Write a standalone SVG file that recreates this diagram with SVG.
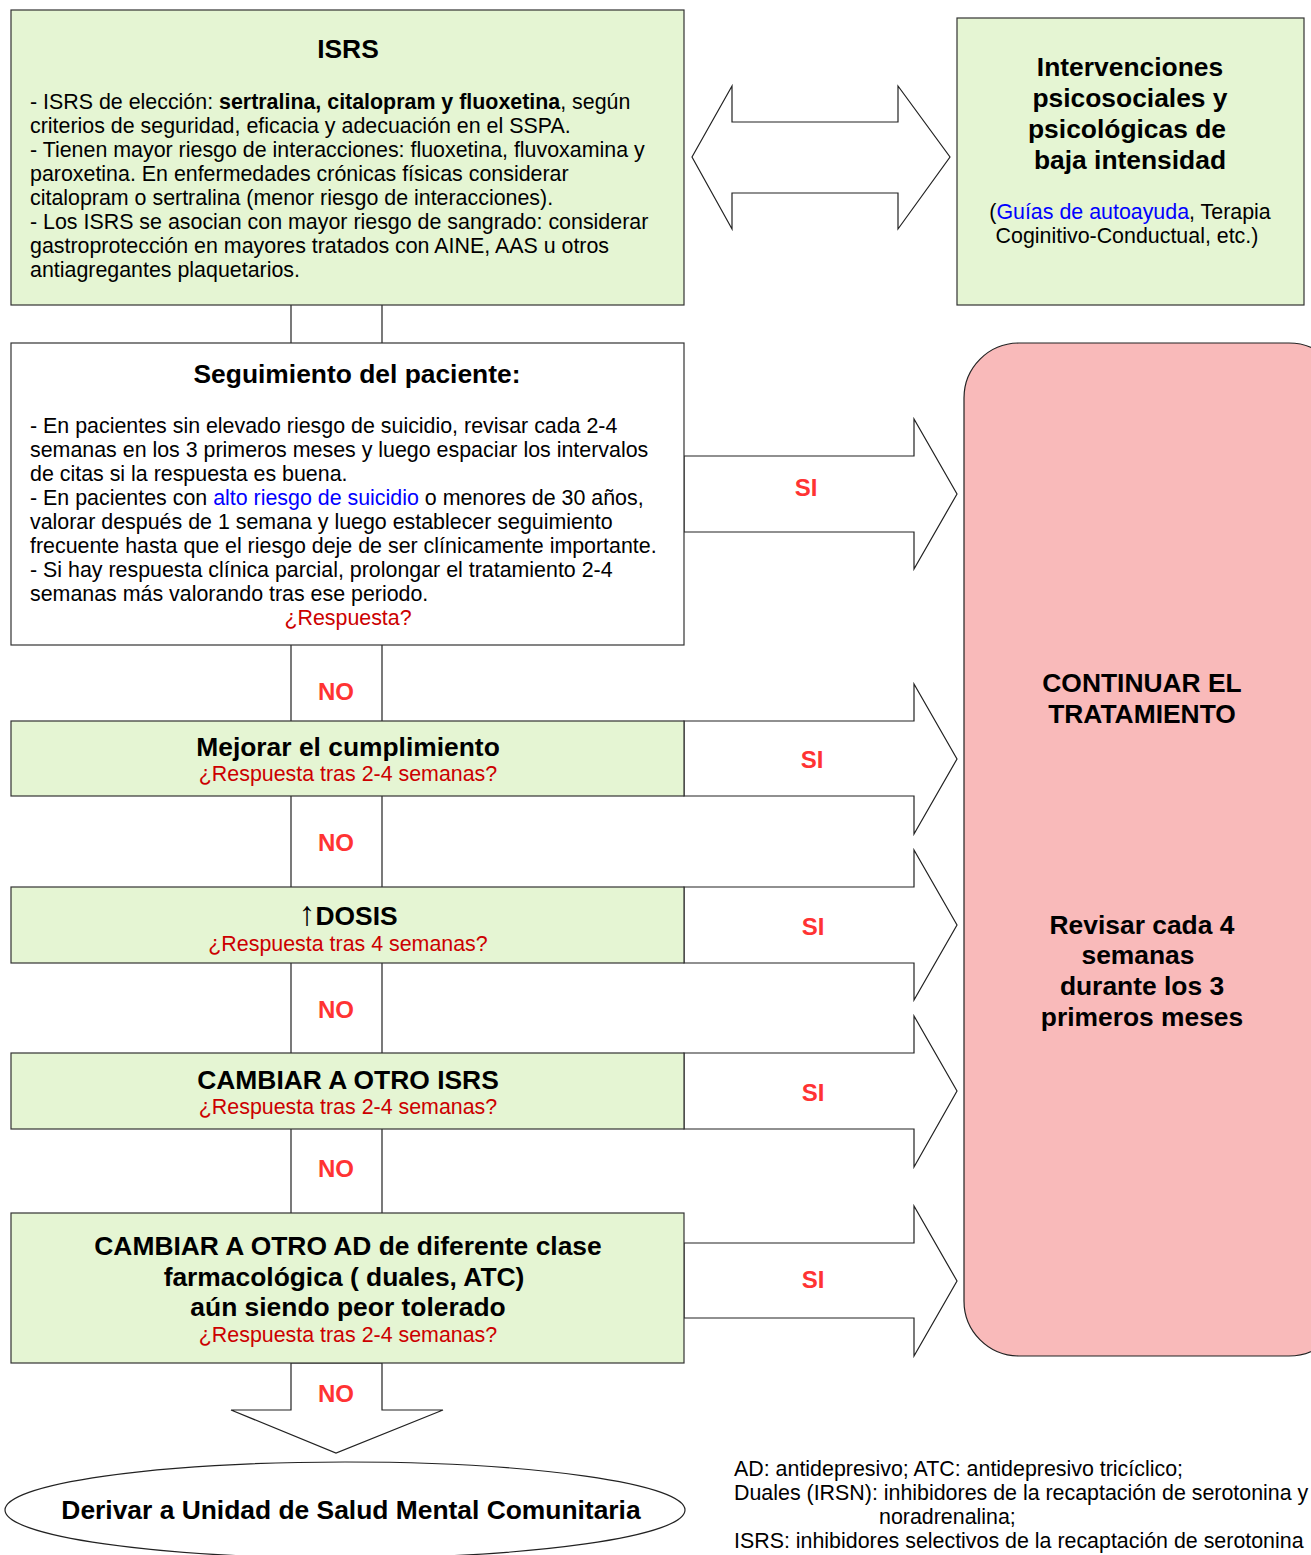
<svg xmlns="http://www.w3.org/2000/svg" width="1311" height="1555" viewBox="0 0 1311 1555">
<style>
text{font-family:"Liberation Sans",Arial,sans-serif;}
.box{fill:#e5f5d3;stroke:#333;stroke-width:1.2;}
.wbox{fill:#fff;stroke:#333;stroke-width:1.2;}
.arr{fill:#fff;stroke:#222;stroke-width:1.2;}
.ln{fill:none;stroke:#222;stroke-width:1.2;}
.t{font-size:21.4px;fill:#000;}
.h{font-size:26.4px;font-weight:bold;fill:#000;text-anchor:middle;}
.q{font-size:21.4px;fill:#cc0000;text-anchor:middle;}
.lab{font-size:24px;font-weight:bold;fill:#ff3333;text-anchor:middle;}
.blue{fill:#0000ff;}
</style>
<rect width="1311" height="1555" fill="#fff"/>
<g id="connectors">
  <polygon class="arr" points="692,157 732,86 732,122 898,122 898,86 950,157 898,229 898,193 732,193 732,229"/>
  <polygon class="arr" points="684,456 914,456 914,419 957,494 914,569 914,532 684,532"/>
  <polygon class="arr" points="684,721 914,721 914,684 957,759 914,834 914,796 684,796"/>
  <polygon class="arr" points="684,887 914,887 914,850 957,925 914,1000 914,963 684,963"/>
  <polygon class="arr" points="684,1053 914,1053 914,1016 957,1091 914,1167 914,1129 684,1129"/>
  <polygon class="arr" points="684,1243 914,1243 914,1206 957,1281 914,1356 914,1318 684,1318"/>
  <path class="ln" d="M291,305V343M382,305V343M291,645V721M382,645V721M291,796V887M382,796V887M291,963V1053M382,963V1053M291,1129V1213M382,1129V1213"/>
  <polygon class="arr" points="291,1363 291,1410 231,1410 336,1453 443,1410 382,1410 382,1363"/>
  <text class="lab" x="806" y="496">SI</text>
  <text class="lab" x="812" y="768">SI</text>
  <text class="lab" x="813" y="935">SI</text>
  <text class="lab" x="813" y="1101">SI</text>
  <text class="lab" x="813" y="1288">SI</text>
  <text class="lab" x="336" y="700">NO</text>
  <text class="lab" x="336" y="851">NO</text>
  <text class="lab" x="336" y="1018">NO</text>
  <text class="lab" x="336" y="1177">NO</text>
  <text class="lab" x="336" y="1402">NO</text>
</g>
<g id="isrs">
  <rect class="box" x="11" y="10" width="673" height="295"/>
  <text class="h" x="348" y="58">ISRS</text>
  <text class="t" x="30" y="109">- ISRS de elección: <tspan font-weight="bold">sertralina, citalopram y fluoxetina</tspan>, según</text>
  <text class="t" x="30" y="133">criterios de seguridad, eficacia y adecuación en el SSPA.</text>
  <text class="t" x="30" y="157">- Tienen mayor riesgo de interacciones: fluoxetina, fluvoxamina y</text>
  <text class="t" x="30" y="181">paroxetina. En enfermedades crónicas físicas considerar</text>
  <text class="t" x="30" y="205">citalopram o sertralina (menor riesgo de interacciones).</text>
  <text class="t" x="30" y="229">- Los ISRS se asocian con mayor riesgo de sangrado: considerar</text>
  <text class="t" x="30" y="253">gastroprotección en mayores tratados con AINE, AAS u otros</text>
  <text class="t" x="30" y="277">antiagregantes plaquetarios.</text>
</g>
<g id="intervenciones">
  <rect class="box" x="957" y="18" width="347" height="287"/>
  <text class="h" x="1130" y="76">Intervenciones</text>
  <text class="h" x="1130" y="107">psicosociales y</text>
  <text class="h" x="1127" y="138">psicológicas de</text>
  <text class="h" x="1130" y="169">baja intensidad</text>
  <text class="t" x="1130" y="219" text-anchor="middle">(<tspan class="blue">Guías de autoayuda</tspan>, Terapia</text>
  <text class="t" x="1127" y="243" text-anchor="middle">Coginitivo-Conductual, etc.)</text>
</g>
<g id="seguimiento">
  <rect class="wbox" x="11" y="343" width="673" height="302"/>
  <text class="h" x="357" y="383">Seguimiento del paciente:</text>
  <text class="t" x="30" y="433">- En pacientes sin elevado riesgo de suicidio, revisar cada 2-4</text>
  <text class="t" x="30" y="457">semanas en los 3 primeros meses y luego espaciar los intervalos</text>
  <text class="t" x="30" y="481">de citas si la respuesta es buena.</text>
  <text class="t" x="30" y="505">- En pacientes con <tspan class="blue">alto riesgo de suicidio</tspan> o menores de 30 años,</text>
  <text class="t" x="30" y="529">valorar después de 1 semana y luego establecer seguimiento</text>
  <text class="t" x="30" y="553">frecuente hasta que el riesgo deje de ser clínicamente importante.</text>
  <text class="t" x="30" y="577">- Si hay respuesta clínica parcial, prolongar el tratamiento 2-4</text>
  <text class="t" x="30" y="601">semanas más valorando tras ese periodo.</text>
  <text class="q" x="348" y="625">¿Respuesta?</text>
</g>
<g id="mejorar">
  <rect class="box" x="11" y="721" width="673" height="75"/>
  <text class="h" x="348" y="756">Mejorar el cumplimiento</text>
  <text class="q" x="348" y="781">¿Respuesta tras 2-4 semanas?</text>
</g>
<g id="dosis">
  <rect class="box" x="11" y="887" width="673" height="76"/>
  <text class="h" x="348" y="925"><tspan font-weight="normal" font-size="34">↑</tspan>DOSIS</text>
  <text class="q" x="348" y="951">¿Respuesta tras 4 semanas?</text>
</g>
<g id="cambiar-isrs">
  <rect class="box" x="11" y="1053" width="673" height="76"/>
  <text class="h" x="348" y="1089">CAMBIAR A OTRO ISRS</text>
  <text class="q" x="348" y="1114">¿Respuesta tras 2-4 semanas?</text>
</g>
<g id="cambiar-ad">
  <rect class="box" x="11" y="1213" width="673" height="150"/>
  <text class="h" x="348" y="1255">CAMBIAR A OTRO AD de diferente clase</text>
  <text class="h" x="344" y="1286">farmacológica ( duales, ATC)</text>
  <text class="h" x="348" y="1316">aún siendo peor tolerado</text>
  <text class="q" x="348" y="1342">¿Respuesta tras 2-4 semanas?</text>
</g>
<g id="continuar">
  <rect x="964" y="343" width="380" height="1013" rx="55" ry="55" fill="#f9baba" stroke="#222" stroke-width="1.2"/>
  <text class="h" x="1142" y="692">CONTINUAR EL</text>
  <text class="h" x="1142" y="723">TRATAMIENTO</text>
  <text class="h" x="1142" y="934">Revisar cada 4</text>
  <text class="h" x="1138" y="964">semanas</text>
  <text class="h" x="1142" y="995">durante los 3</text>
  <text class="h" x="1142" y="1026">primeros meses</text>
</g>
<g id="derivar">
  <ellipse cx="345" cy="1510" rx="340" ry="48" fill="#fff" stroke="#222" stroke-width="1.2"/>
  <text class="h" x="351" y="1519">Derivar a Unidad de Salud Mental Comunitaria</text>
</g>
<g id="leyenda">
  <text class="t" x="734" y="1476">AD: antidepresivo; ATC: antidepresivo tricíclico;</text>
  <text class="t" x="734" y="1500">Duales (IRSN): inhibidores de la recaptación de serotonina y</text>
  <text class="t" x="879" y="1524">noradrenalina;</text>
  <text class="t" x="734" y="1548">ISRS: inhibidores selectivos de la recaptación de serotonina</text>
</g>
</svg>
